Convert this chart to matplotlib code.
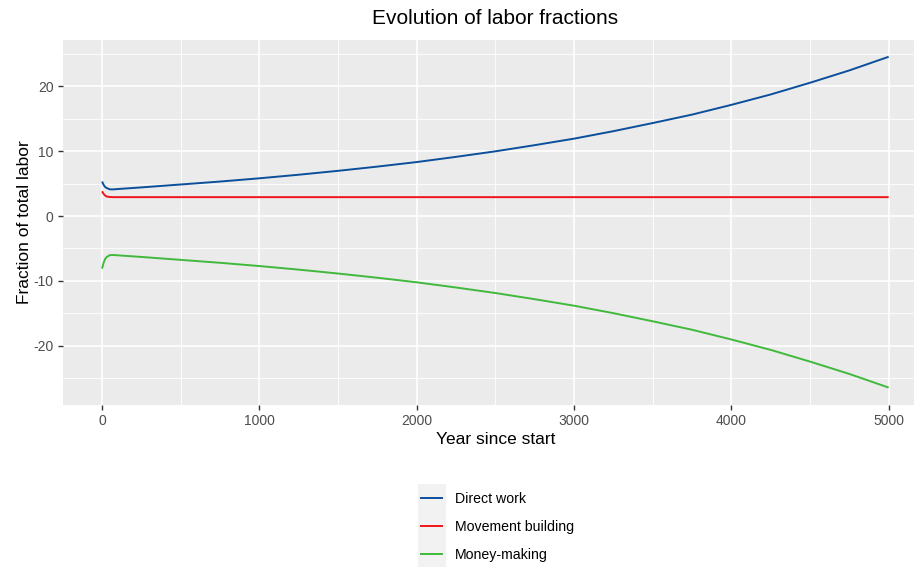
import matplotlib
matplotlib.use("Agg")
import matplotlib.pyplot as plt
from matplotlib.patches import Rectangle
from matplotlib.ticker import MultipleLocator

plt.rcParams["font.family"] = ["Liberation Sans", "DejaVu Sans"]
plt.rcParams["axes.unicode_minus"] = False

# values
years = [0, 10, 20, 30, 50, 75, 100, 250, 500, 750, 1000, 1250, 1500, 1750, 2000,
         2250, 2500, 2750, 3000, 3250, 3500, 3750, 4000, 4250, 4500, 4750, 5000]
direct_work = [5.3, 4.8, 4.45, 4.3, 4.1, 4.1, 4.15, 4.4, 4.85, 5.3, 5.8, 6.35, 6.95, 7.6, 8.3,
               9.1, 9.95, 10.9, 11.9, 13.05, 14.3, 15.6, 17.1, 18.7, 20.5, 22.4, 24.5]
movement_building = [3.8, 3.4, 3.15, 3.0, 2.92, 2.9, 2.9, 2.9, 2.9, 2.9, 2.9, 2.9, 2.9, 2.9, 2.9,
                     2.9, 2.9, 2.9, 2.9, 2.9, 2.9, 2.9, 2.9, 2.9, 2.9, 2.9, 2.9]
money_making = [-8.1, -7.2, -6.6, -6.3, -6.02, -6.0, -6.05, -6.3, -6.75, -7.2, -7.7, -8.25, -8.85,
                -9.5, -10.2, -11.0, -11.85, -12.8, -13.8, -14.95, -16.2, -17.5, -19.0, -20.6,
                -22.4, -24.3, -26.4]

series = [
    ("Direct work", direct_work, "#0B4F9C"),
    ("Movement building", movement_building, "#F0141A"),
    ("Money-making", money_making, "#40B93C"),
]

W, H = 914, 567
fig = plt.figure(figsize=(W / 100, H / 100), dpi=100)
ax = fig.add_axes([62.7 / W, 1 - 405 / H, (928 - 62.7) / W, 365 / H])
ax.set_facecolor("#EBEBEB")

handles = []
for name, vals, col in series:
    (ln,) = ax.plot(years, vals, color=col, lw=1.4, label=name, solid_capstyle="butt")
    handles.append(ln)

ax.set_xlim(-250, 5250)
ax.set_ylim(-29.08, 27.08)
ax.xaxis.set_major_locator(MultipleLocator(1000))
ax.xaxis.set_minor_locator(MultipleLocator(500))
ax.yaxis.set_major_locator(MultipleLocator(10))
ax.yaxis.set_minor_locator(MultipleLocator(5))
ax.grid(which="major", color="white", lw=1.2)
ax.grid(which="minor", color="white", lw=0.6)
ax.set_axisbelow(True)
for s in ax.spines.values():
    s.set_visible(False)
ax.tick_params(which="major", length=3.5, width=1.0, color="#333333",
               labelcolor="#4D4D4D", labelsize=10, pad=3)
ax.tick_params(which="minor", length=0)

ax.set_xlabel("Year since start", fontsize=12.5, labelpad=3)
ax.set_ylabel("Fraction of total labor", fontsize=12.5, labelpad=1)
fig.text(495 / W, 1 - 18 / H, "Evolution of labor fractions", ha="center", va="center",
         fontsize=15)

# legend key background
fig.patches.append(Rectangle((418 / W, 0), 28 / W, (H - 484) / H, transform=fig.transFigure,
                             facecolor="#F2F2F2", edgecolor="none", zorder=0))
fig.legend(handles=handles, loc="upper left", bbox_to_anchor=(420 / W, 1 - 492 / H),
           frameon=False, fontsize=10.2, handlelength=1.6, handletextpad=0.87,
           labelspacing=1.0, borderpad=0, borderaxespad=0)

fig.savefig("out.png", dpi=100)
